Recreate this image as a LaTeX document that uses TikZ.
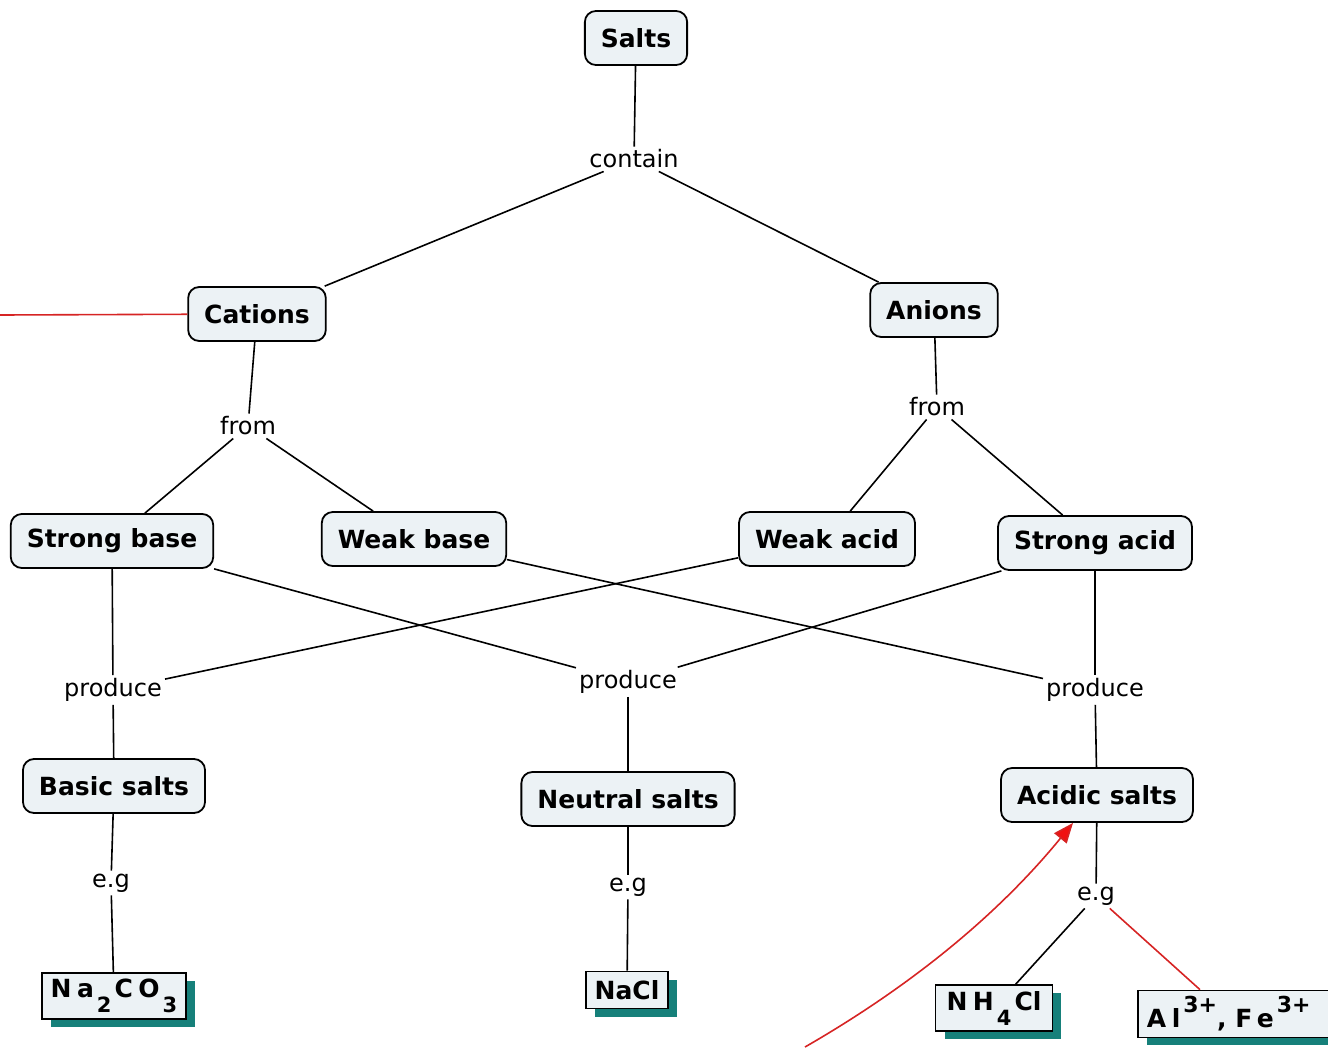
\documentclass[tikz,border=0pt]{standalone}
\usepackage{fontspec}
\setmainfont{DejaVu Sans}
\newfontfamily\chemfont[LetterSpace=22]{DejaVu Sans}
\usetikzlibrary{arrows.meta,shadows}

\definecolor{boxfill}{RGB}{236,242,245}
\definecolor{shadowteal}{RGB}{22,128,122}
\definecolor{linkred}{RGB}{214,36,36}
\definecolor{arrowred}{RGB}{240,16,16}

% lowered and raised digits set in the same face
\newcommand{\lowsub}[1]{\hspace{3pt}\raisebox{-15pt}{\fontsize{21}{24}\selectfont #1}\hspace{3pt}}
\newcommand{\highsup}[1]{\hspace{3pt}\raisebox{15pt}{\fontsize{22}{24}\selectfont #1}}

\begin{document}
\begin{tikzpicture}[x=1pt,y=-1pt,
  concept/.style={draw=black, line width=1.8pt, rounded corners=11pt, fill=boxfill,
    font=\bfseries\fontsize{25}{28}\selectfont, inner xsep=16pt, minimum height=54pt},
  linkword/.style={font=\fontsize{24}{28}\selectfont, inner sep=3pt},
  example/.style={draw=black, line width=1.8pt, fill=boxfill,
    font=\bfseries\fontsize{25}{28}\selectfont, inner xsep=9pt, inner ysep=6pt,
    drop shadow={shadow xshift=9pt, shadow yshift=-8pt, fill=shadowteal, opacity=1}},
  conn/.style={line width=1.6pt},
  redconn/.style={line width=1.6pt, draw=linkred}]

\useasboundingbox (0,0) rectangle (1328,1047);

% concepts
\node[concept] (salts)   at (636,38)  {Salts};
\node[concept] (cations) at (257,314) {Cations};
\node[concept] (anions)  at (934,310) {Anions};
\node[concept] (sbase)   at (112,541) {Strong base};
\node[concept] (wbase)   at (414,539) {Weak base};
\node[concept] (wacid)   at (827,539) {Weak acid};
\node[concept] (sacid)   at (1095,543) {Strong acid};
\node[concept] (basic)   at (114,786) {Basic salts};
\node[concept] (neutral) at (628,799) {Neutral salts};
\node[concept] (acidic)  at (1097,795) {Acidic salts};

% linking phrases
\node[linkword] (contain) at (634,159) {contain};
\node[linkword] (fromL)   at (248,426) {from};
\node[linkword] (fromR)   at (937,407) {from};
\node[linkword] (prodL)   at (113,690) {produce};
\node[linkword] (prodM)   at (628,682) {produce};
\node[linkword] (prodR)   at (1095,690) {produce};
\node[linkword] (egL)     at (111,883) {e.g};
\node[linkword] (egM)     at (628,887) {e.g};
\node[linkword] (egR)     at (1096,896) {e.g};

% examples
\node[example] (na2co3) at (114,996) {\chemfont Na\lowsub{2}CO\lowsub{3}};
\node[example, minimum height=37pt] (nacl) at (627,990) {NaCl};
\node[example, inner xsep=11pt] (nh4cl)  at (994,1008) {{\chemfont NH}\lowsub{4}Cl};
\node[example, anchor=west] (alfe) at (1137,1014)
  {{\chemfont Al}\highsup{3+}, {\chemfont Fe}\highsup{3+}\rule{30pt}{0pt}};

% free ends of the red links
\coordinate (leftin)  at (0,315);
\coordinate (curvein) at (805,1047);

% connectors
\draw[conn] (salts) -- (contain);
\draw[conn] (contain) -- (cations);
\draw[conn] (contain) -- (anions);
\draw[conn] (cations) -- (fromL);
\draw[conn] (fromL) -- (sbase);
\draw[conn] (fromL) -- (wbase);
\draw[conn] (anions) -- (fromR);
\draw[conn] (fromR) -- (wacid);
\draw[conn] (fromR) -- (sacid);
\draw[conn] (sbase) -- (prodL);
\draw[conn] (sbase) -- (prodM);
\draw[conn] (wbase) -- (prodR);
\draw[conn] (wacid) -- (prodL);
\draw[conn] (sacid) -- (prodM);
\draw[conn] (sacid) -- (prodR);
\draw[conn] (prodL) -- (basic);
\draw[conn] (prodM) -- (neutral);
\draw[conn] (prodR) -- (acidic);
\draw[conn] (basic) -- (egL);
\draw[conn] (egL) -- (na2co3);
\draw[conn] (neutral) -- (egM);
\draw[conn] (egM) -- (nacl);
\draw[conn] (acidic) -- (egR);
\draw[conn] (egR) -- (nh4cl);
\draw[redconn] (egR) -- (alfe.north west -| 1200,0);

% red links
\draw[redconn] (leftin) -- (cations);
\draw[redconn, -{Triangle[length=20pt,width=16pt,fill=arrowred]}]
  (curvein) .. controls (930,975) and (1010,900) .. ([xshift=-24pt]acidic.south);
\end{tikzpicture}
\end{document}
